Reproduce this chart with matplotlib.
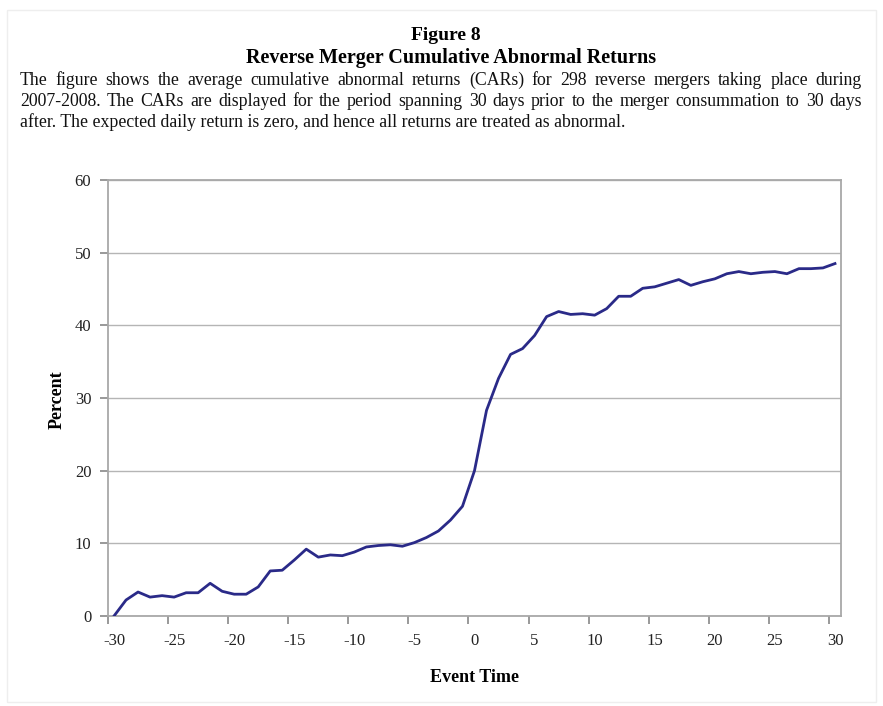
import matplotlib
matplotlib.use("Agg")
import matplotlib.pyplot as plt
from matplotlib.patches import Rectangle

event_time = list(range(-30, 31))
car_percent = [
    0.0, 2.2, 3.3, 2.6, 2.8, 2.6, 3.2, 3.2, 4.5, 3.4,
    3.0, 3.0, 4.0, 6.2, 6.3, 7.7, 9.2, 8.1, 8.4, 8.3,
    8.8, 9.5, 9.7, 9.8, 9.6, 10.1, 10.8, 11.7, 13.2, 15.1,
    20.0, 28.3, 32.7, 36.0, 36.8, 38.6, 41.2, 41.9, 41.5, 41.6,
    41.4, 42.3, 44.0, 44.0, 45.1, 45.3, 45.8, 46.3, 45.5, 46.0,
    46.4, 47.1, 47.4, 47.1, 47.3, 47.4, 47.1, 47.8, 47.8, 47.9,
    48.5,
]
x_tick_labels = [-30, -25, -20, -15, -10, -5, 0, 5, 10, 15, 20, 25, 30]
y_ticks = [0, 10, 20, 30, 40, 50, 60]

title_line1 = "Figure 8"
title_line2 = "Reverse Merger Cumulative Abnormal Returns"
caption_lines = [
    "The figure shows the average cumulative abnormal returns (CARs) for 298 reverse mergers taking place during",
    "2007-2008. The CARs are displayed for the period spanning 30 days prior to the merger consummation to 30 days",
    "after. The expected daily return is zero, and hence all returns are treated as abnormal.",
]

W, H = 883, 706
fig = plt.figure(figsize=(W / 100, H / 100), dpi=100)
fig.patch.set_facecolor("white")
serif = "Liberation Serif"

# faint page frame
fig.add_artist(Rectangle((7 / W, 4 / H), 869 / W, 692 / H, transform=fig.transFigure,
                         fill=False, edgecolor="#eeeeee", linewidth=1))

fig.text(446 / W, 1 - 36 / H, title_line1, ha="center", va="center",
         fontsize=14, fontweight="bold", family=serif)
fig.text(451 / W, 1 - 58 / H, title_line2, ha="center", va="center",
         fontsize=14.5, fontweight="bold", family=serif)

# justified caption (baseline-aligned words)
renderer = fig.canvas.get_renderer()
left_px, right_px = 20, 862
baselines = [85, 106, 127]
cap_fs = 12.8
for i, line in enumerate(caption_lines):
    y = 1 - baselines[i] / H
    if i == len(caption_lines) - 1:
        fig.text(left_px / W, y, line, ha="left", va="baseline", fontsize=cap_fs, family=serif,
                 color="#111111")
        continue
    words = line.split(" ")
    arts = [fig.text(0, y, w, ha="left", va="baseline", fontsize=cap_fs, family=serif,
                     color="#111111") for w in words]
    widths = [a.get_window_extent(renderer).width for a in arts]
    gap = (right_px - left_px - sum(widths)) / (len(words) - 1)
    xpos = left_px
    for a, wdt in zip(arts, widths):
        a.set_x(xpos / W)
        xpos += wdt + gap

ax = fig.add_axes([108 / W, 1 - 616 / H, (841 - 108) / W, (616 - 180) / H])
ax.plot(event_time, car_percent, color="#2a2a88", linewidth=2.0, solid_joinstyle="round", zorder=3)

ax.set_xlim(-30.5, 30.5)
ax.set_ylim(0, 60)
ax.set_yticks(y_ticks)
ax.set_yticklabels([str(v) for v in y_ticks], family=serif, fontsize=12, color="#222222")
# ticks at category boundaries, labels under category centres
ax.set_xticks([v - 0.5 for v in x_tick_labels])
ax.set_xticklabels([])
for v in x_tick_labels:
    ax.text(v, -0.04, str(v), transform=ax.get_xaxis_transform(), ha="center", va="top",
            family=serif, fontsize=12, color="#222222")

ax.grid(axis="y", color="#b5b5b5", linewidth=1.0, zorder=1)
for s in ax.spines.values():
    s.set_color("#a8a8a8")
    s.set_linewidth(1.3)
ax.tick_params(axis="both", direction="out", length=6, color="#888888", width=1.2)
ax.tick_params(axis="y", pad=6)

fig.text(57 / W, 1 - 400 / H, "Percent", rotation=90, ha="center", va="center",
         fontsize=13, fontweight="bold", family=serif)
fig.text(474 / W, 1 - 678 / H, "Event Time", ha="center", va="center",
         fontsize=13, fontweight="bold", family=serif)

fig.savefig("out.png", dpi=100, facecolor="white")
